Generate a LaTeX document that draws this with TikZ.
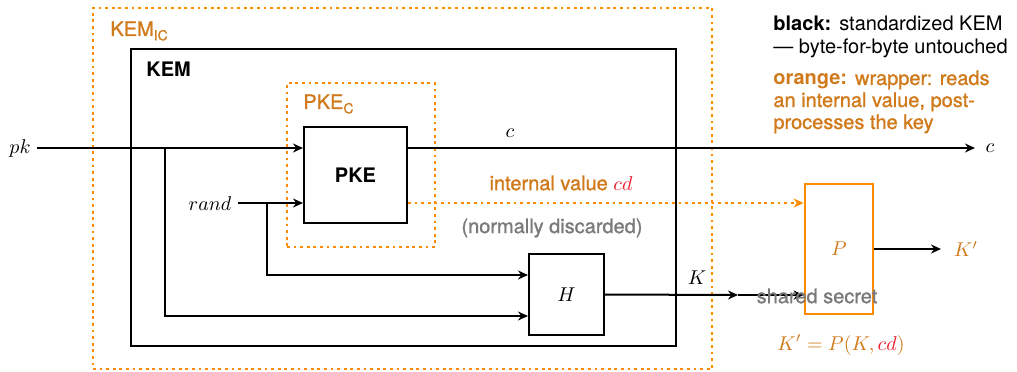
\documentclass[tikz,border=0pt]{standalone}
\usepackage{fontspec}
\setsansfont{TeX Gyre Heros}
\newfontfamily\mediumsans[FakeBold=1.2]{TeX Gyre Heros}
\usetikzlibrary{arrows.meta}
\definecolor{lineorange}{RGB}{255,140,0}
\definecolor{textorange}{RGB}{208,122,28}
\definecolor{cdred}{RGB}{235,30,45}
\definecolor{softgray}{RGB}{122,122,122}
\tikzset{
  every node/.style={font=\sffamily\fontsize{10}{12}\selectfont, inner sep=0pt},
  blackbox/.style={draw=black, line width=1pt, rectangle},
  wrapbox/.style={draw=lineorange, line width=1.4pt, dash pattern=on 1.4pt off 1.9pt, rectangle},
  pbox/.style={draw=lineorange, line width=1.4pt, rectangle},
  wire/.style={draw=black, line width=1pt},
  arr/.style={wire, -{Stealth[length=5pt,width=4.5pt]}},
  dotarr/.style={draw=lineorange, line width=1.4pt, dash pattern=on 1.4pt off 1.9pt,
                 -{Stealth[length=5pt,width=4.5pt]}},
  wraplabel/.style={text=textorange, font=\mediumsans\fontsize{10}{12}\selectfont},
  grayl/.style={text=softgray},
}
\begin{document}
\begin{tikzpicture}[x=0.5pt, y=-0.5pt]
  \useasboundingbox (0,0) rectangle (1017,371);

  % outer wrapper and the standard KEM
  \node[wrapbox, minimum width=309.5pt, minimum height=180.5pt] (kemic) at (402.5,188.5) {};
  \node[wraplabel, anchor=west] (kemiclbl) at (110,31) {KEM{\fontsize{7}{8}\selectfont\raisebox{-2.2pt}{IC}}};
  \node[blackbox, minimum width=272.5pt, minimum height=148.5pt] (kem) at (403.5,197.5) {};
  \node[anchor=west, font=\sffamily\bfseries\fontsize{10}{12}\selectfont] (kemlbl) at (146,69) {KEM};

  % PKE with its capturing wrapper
  \node[wrapbox, minimum width=74pt, minimum height=82pt] (pkec) at (361,165) {};
  \node[wraplabel, anchor=west] (pkeclbl) at (303,104) {PKE{\fontsize{7}{8}\selectfont\raisebox{-2.2pt}{C}}};
  \node[blackbox, fill=white, minimum width=51.5pt, minimum height=48pt,
        font=\sffamily\bfseries\fontsize{10}{12}\selectfont] (PKE) at (355.5,175) {PKE};

  % hash and post-processing
  \node[blackbox, minimum width=37.5pt, minimum height=40.5pt] (H) at (566.5,294.5) {$H$};
  \node[pbox, minimum width=34pt, minimum height=65pt, text=textorange] (P) at (839,249) {$P$};

  % inputs
  \node (pk) at (20,148) {$pk$};
  \node (rand) at (210,204) {$rand$};
  \coordinate (pkin) at ([yshift=13.5pt]PKE.west);
  \coordinate (randin) at ([yshift=-14pt]PKE.west);
  \coordinate (Hin1) at ([yshift=9.75pt]H.west);
  \coordinate (Hin2) at ([yshift=-10.75pt]H.west);
  \coordinate (br1) at (165,148);
  \coordinate (br2) at (267,203);

  \draw[arr] (pk.east |- pkin) ++(3pt,0) -- (pkin);
  \draw[arr] (rand.east |- randin) ++(3pt,0) -- (randin);
  \draw[arr] (br1) |- (Hin2);
  \draw[arr] (br2) |- (Hin1);

  % ciphertext
  \coordinate (pkeout) at ([yshift=13.5pt]PKE.east);
  \coordinate (cend) at (975,148);
  \draw[arr] (pkeout) -- (cend);
  \node (clbl) at (510,133) {$c$};
  \node (cout) at (990,148) {$c$};

  % captured internal value
  \coordinate (cdout) at ([yshift=-14pt]PKE.east);
  \draw[dotarr] (cdout) -- (cdout -| P.west);
  \node[wraplabel] (cdlbl) at (561,183) {internal value \textcolor{cdred}{$cd$}};
  \node[grayl, font=\mediumsans\fontsize{10}{12}\selectfont] (disc) at (552,228) {(normally discarded)};

  % shared secret
  \coordinate (kend) at (738,295);
  \draw[arr] (H.east) -- (kend);
  \draw[arr] (kend) -- (kend -| P.west);
  \node (klbl) at (697,278) {$K$};
  \node[grayl, font=\mediumsans\fontsize{10}{12}\selectfont] (shared) at (817,296) {shared secret};

  % post-processed key
  \coordinate (kpend) at (941,249);
  \draw[arr] (P.east) -- (kpend);
  \node[text=textorange] (kp) at (966,249) {$K'$};
  \node[text=textorange] (formula) at (841,345) {$K' = P(K, \textcolor{cdred}{cd})$};

  % legend
  \node[anchor=north west, align=left] (legb) at (773,16)
    {\textbf{black:}\hspace{0.4em}standardized KEM\\[-0.5pt] --- byte-for-byte untouched};
  \node[anchor=north west, align=left, text=textorange, font=\mediumsans\fontsize{10}{11}\selectfont] (lego) at (773,70)
    {{\sffamily\bfseries orange:}\hspace{0.4em}wrapper: reads\\ an internal value, post-\\ processes the key};
\end{tikzpicture}
\end{document}
